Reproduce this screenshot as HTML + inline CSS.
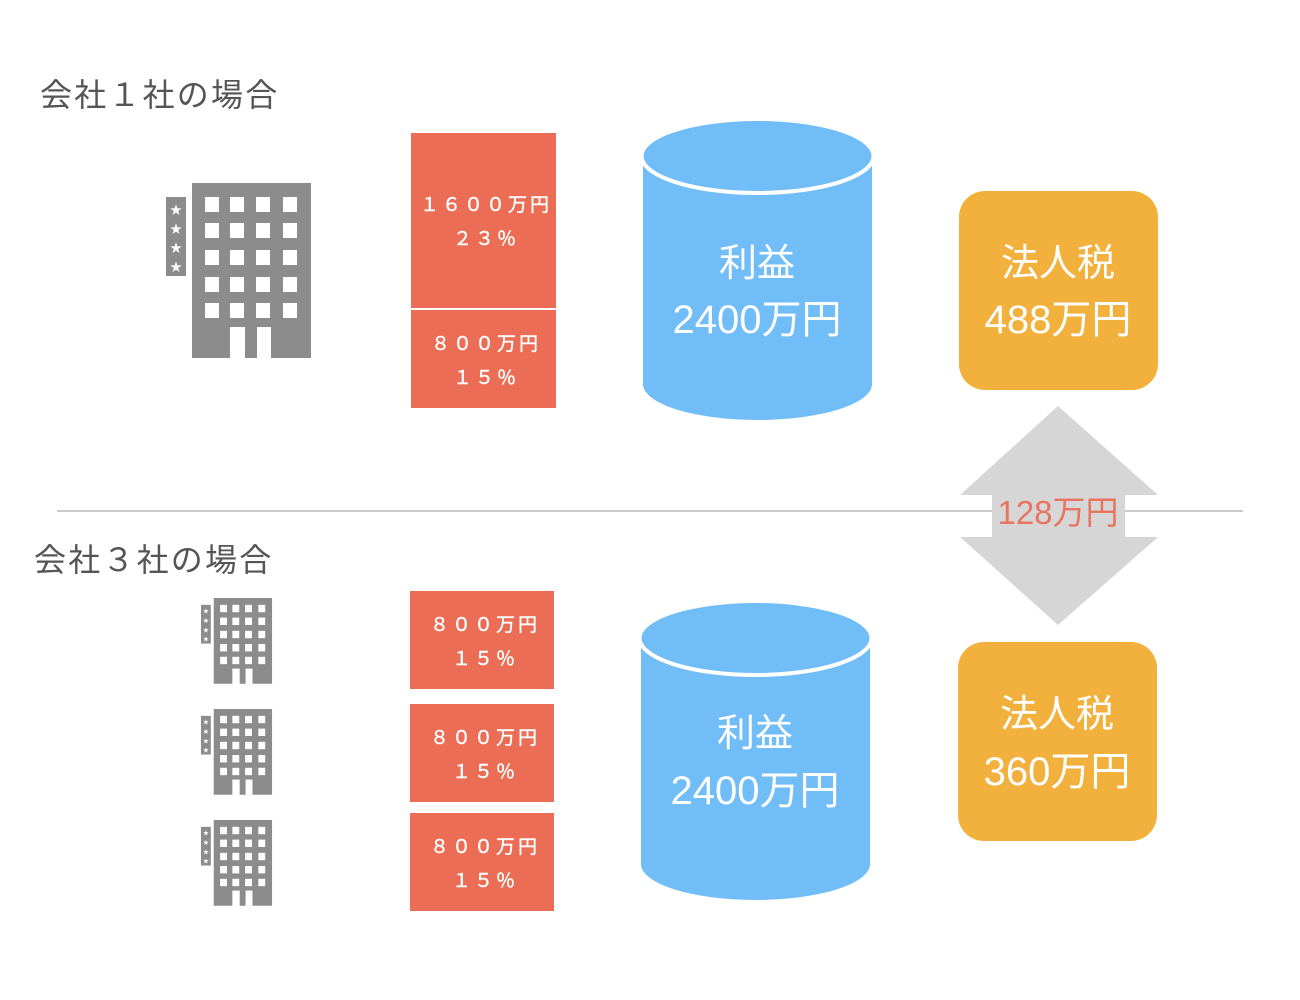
<!DOCTYPE html>
<html><head><meta charset="utf-8"><style>
html,body{margin:0;padding:0;background:#fff;}
svg{display:block;}
text{font-family:"Liberation Sans","Noto Sans CJK JP",sans-serif;}
</style></head><body>
<svg width="1300" height="1000" viewBox="0 0 1300 1000" xmlns="http://www.w3.org/2000/svg">
<defs>
<g id="bld">
  <rect x="26" y="0" width="119" height="175" fill="#8c8c8c"/>
  <rect x="0" y="14" width="20" height="79" fill="#8c8c8c"/>
  <g fill="#fff">
    <rect x="39" y="14" width="14" height="15"/><rect x="64" y="14" width="14" height="15"/><rect x="90" y="14" width="14" height="15"/><rect x="117" y="14" width="14" height="15"/>
    <rect x="39" y="40" width="14" height="15"/><rect x="64" y="40" width="14" height="15"/><rect x="90" y="40" width="14" height="15"/><rect x="117" y="40" width="14" height="15"/>
    <rect x="39" y="67" width="14" height="15"/><rect x="64" y="67" width="14" height="15"/><rect x="90" y="67" width="14" height="15"/><rect x="117" y="67" width="14" height="15"/>
    <rect x="39" y="94" width="14" height="15"/><rect x="64" y="94" width="14" height="15"/><rect x="90" y="94" width="14" height="15"/><rect x="117" y="94" width="14" height="15"/>
    <rect x="39" y="120" width="14" height="15"/><rect x="64" y="120" width="14" height="15"/><rect x="90" y="120" width="14" height="15"/><rect x="117" y="120" width="14" height="15"/>
    <rect x="64" y="144" width="15" height="32"/><rect x="91" y="144" width="14" height="32"/>
    <text x="10" y="31" font-size="12" text-anchor="middle">★</text>
    <text x="10" y="50" font-size="12" text-anchor="middle">★</text>
    <text x="10" y="69" font-size="12" text-anchor="middle">★</text>
    <text x="10" y="88" font-size="12" text-anchor="middle">★</text>
  </g>
</g>
</defs>

<text x="40" y="106" font-size="32" letter-spacing="2.2" fill="#555">会社１社の場合</text>
<text x="34" y="571" font-size="32" letter-spacing="2.2" fill="#555">会社３社の場合</text>

<use href="#bld" x="166" y="183"/>
<use href="#bld" transform="translate(201,598) scale(0.49)"/>
<use href="#bld" transform="translate(201,709) scale(0.49)"/>
<use href="#bld" transform="translate(201,820) scale(0.49)"/>

<g fill="#eb6d55">
  <rect x="411" y="133" width="145" height="175"/>
  <rect x="411" y="310" width="145" height="98"/>
  <rect x="410" y="591" width="144" height="98"/>
  <rect x="410" y="704" width="144" height="98"/>
  <rect x="410" y="813" width="144" height="98"/>
</g>
<g fill="#fff" font-size="19" letter-spacing="3" text-anchor="middle" stroke="#fff" stroke-width="0.4">
  <text x="486" y="211">１６００万円</text>
  <text x="486" y="245">２３％</text>
  <text x="486" y="350">８００万円</text>
  <text x="486" y="384">１５％</text>
  <text x="485" y="631">８００万円</text>
  <text x="485" y="665">１５％</text>
  <text x="485" y="744">８００万円</text>
  <text x="485" y="778">１５％</text>
  <text x="485" y="853">８００万円</text>
  <text x="485" y="887">１５％</text>
</g>

<g fill="#70bdf7">
  <rect x="643" y="156" width="229" height="228"/>
  <ellipse cx="757.5" cy="384" rx="114.5" ry="36"/>
  <rect x="641" y="638" width="229" height="226"/>
  <ellipse cx="755.5" cy="864" rx="114.5" ry="36"/>
</g>
<g fill="#70bdf7" stroke="#fff" stroke-width="4">
  <ellipse cx="757.5" cy="156" rx="116" ry="37"/>
  <ellipse cx="755.5" cy="638" rx="116" ry="37"/>
</g>
<g fill="#fff" font-size="38" text-anchor="middle">
  <text x="757" y="276">利益</text>
  <text x="757" y="333" font-size="40">2400万円</text>
  <text x="755" y="746">利益</text>
  <text x="755" y="804" font-size="40">2400万円</text>
</g>

<g fill="#f2b13c">
  <rect x="959" y="191" width="199" height="199" rx="26"/>
  <rect x="958" y="642" width="199" height="199" rx="26"/>
</g>
<g fill="#fff" font-size="38" text-anchor="middle">
  <text x="1058" y="276">法人税</text>
  <text x="1058" y="333" font-size="40">488万円</text>
  <text x="1057" y="727">法人税</text>
  <text x="1057" y="785" font-size="40">360万円</text>
</g>

<line x1="57" y1="511" x2="1243" y2="511" stroke="#bbb" stroke-width="1.5"/>
<polygon points="1058,406 1158,495 1125,495 1125,537 1158,537 1058,625 960,537 992,537 992,495 960,495" fill="#d6d6d6"/>
<text x="1058" y="524" font-size="33" fill="#e8735f" text-anchor="middle">128万円</text>
</svg>
</body></html>
